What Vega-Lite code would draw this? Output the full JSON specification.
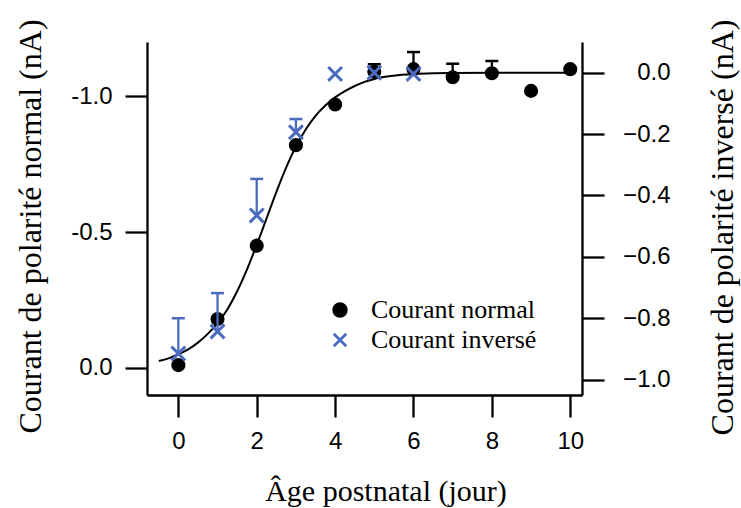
{
  "$schema": "https://vega.github.io/schema/vega-lite/v6.json",
  "width": 435,
  "height": 353,
  "autosize": {"type": "none"},
  "padding": {"left": 147, "top": 42, "right": 159, "bottom": 113},
  "background": "white",
  "config": {
    "view": {"stroke": null},
    "axis": {
      "grid": false,
      "domainColor": "black",
      "domainWidth": 2.3,
      "tickColor": "black",
      "tickWidth": 2.3,
      "tickSize": 22,
      "labelFont": "Liberation Sans",
      "labelFontSize": 24,
      "labelColor": "black",
      "titleFont": "Liberation Serif",
      "titleFontWeight": "normal",
      "titleColor": "black"
    },
    "legend": {
      "labelFont": "Liberation Serif",
      "labelFontSize": 26,
      "labelColor": "black",
      "labelLimit": 400,
      "symbolSize": 160,
      "symbolStrokeWidth": 2.8,
      "labelOffset": 18,
      "rowPadding": 4,
      "padding": 0
    }
  },
  "datasets": {
    "normal": [
      {"age": 0, "val": -0.01, "hi": null, "serie": "Courant normal"},
      {"age": 1, "val": -0.18, "hi": null, "serie": "Courant normal"},
      {"age": 2, "val": -0.45, "hi": null, "serie": "Courant normal"},
      {"age": 3, "val": -0.82, "hi": null, "serie": "Courant normal"},
      {"age": 4, "val": -0.97, "hi": null, "serie": "Courant normal"},
      {"age": 5, "val": -1.09, "hi": -1.118, "serie": "Courant normal"},
      {"age": 6, "val": -1.10, "hi": -1.163, "serie": "Courant normal"},
      {"age": 7, "val": -1.07, "hi": -1.12, "serie": "Courant normal"},
      {"age": 8, "val": -1.085, "hi": -1.13, "serie": "Courant normal"},
      {"age": 9, "val": -1.02, "hi": null, "serie": "Courant normal"},
      {"age": 10, "val": -1.10, "hi": null, "serie": "Courant normal"}
    ],
    "inverse": [
      {"age": 0, "val": -0.915, "hi": -0.80, "serie": "Courant inversé"},
      {"age": 1, "val": -0.843, "hi": -0.718, "serie": "Courant inversé"},
      {"age": 2, "val": -0.465, "hi": -0.346, "serie": "Courant inversé"},
      {"age": 3, "val": -0.194, "hi": -0.151, "serie": "Courant inversé"},
      {"age": 4, "val": -0.004, "hi": null, "serie": "Courant inversé"},
      {"age": 5, "val": 0.0, "hi": null, "serie": "Courant inversé"},
      {"age": 6, "val": -0.004, "hi": null, "serie": "Courant inversé"}
    ],
    "fit": [
      {"age": -0.5, "val": -0.025},
      {"age": -0.25, "val": -0.035},
      {"age": 0, "val": -0.05},
      {"age": 0.25, "val": -0.068},
      {"age": 0.5, "val": -0.093},
      {"age": 0.75, "val": -0.125},
      {"age": 1, "val": -0.165},
      {"age": 1.25, "val": -0.215},
      {"age": 1.5, "val": -0.282},
      {"age": 1.75, "val": -0.362},
      {"age": 2, "val": -0.453},
      {"age": 2.25, "val": -0.55},
      {"age": 2.5, "val": -0.647},
      {"age": 2.75, "val": -0.737},
      {"age": 3, "val": -0.815},
      {"age": 3.25, "val": -0.878},
      {"age": 3.5, "val": -0.928},
      {"age": 3.75, "val": -0.966},
      {"age": 4, "val": -0.996},
      {"age": 4.25, "val": -1.019},
      {"age": 4.5, "val": -1.038},
      {"age": 4.75, "val": -1.053},
      {"age": 5, "val": -1.064},
      {"age": 5.5, "val": -1.076},
      {"age": 6, "val": -1.082},
      {"age": 6.5, "val": -1.085},
      {"age": 7, "val": -1.086},
      {"age": 8, "val": -1.087},
      {"age": 10, "val": -1.087}
    ]
  },
  "layer": [
    {
      "layer": [
        {
          "data": {"name": "fit"},
          "mark": {"type": "line", "color": "black", "strokeWidth": 2, "interpolate": "monotone"},
          "encoding": {
            "x": {
              "field": "age", "type": "quantitative",
              "scale": {"domain": [-0.8, 10.3], "nice": false, "zero": false},
              "axis": {
                "values": [0, 2, 4, 6, 8, 10],
                "format": "d",
                "labelPadding": 12,
                "title": "Âge postnatal (jour)",
                "titleFontSize": 30,
                "titleX": 238.5,
                "titleY": 105,
                "titleAlign": "center",
                "titleBaseline": "alphabetic"
              }
            },
            "y": {
              "field": "val", "type": "quantitative",
              "scale": {"domain": [-1.2, 0.1], "reverse": true, "nice": false, "zero": false},
              "axis": {
                "orient": "left",
                "values": [-1, -0.5, 0],
                "labelExpr": "datum.value < 0 ? '-' + format(-datum.value, '.1f') : format(datum.value, '.1f')",
                "labelPadding": 13,
                "title": "Courant de polarité normal (nA)",
                "titleFontSize": 32,
                "titleAngle": -90,
                "titleX": -107,
                "titleY": 184,
                "titleAlign": "center",
                "titleBaseline": "alphabetic"
              }
            }
          }
        },
        {
          "data": {"name": "normal"},
          "transform": [{"filter": "isValid(datum.hi)"}],
          "mark": {"type": "rule", "color": "black", "strokeWidth": 2.3},
          "encoding": {
            "x": {"field": "age", "type": "quantitative"},
            "y": {"field": "val", "type": "quantitative"},
            "y2": {"field": "hi"}
          }
        },
        {
          "data": {"name": "normal"},
          "transform": [{"filter": "isValid(datum.hi)"}],
          "mark": {"type": "tick", "orient": "horizontal", "color": "black", "size": 13, "thickness": 2.5, "opacity": 1},
          "encoding": {
            "x": {"field": "age", "type": "quantitative"},
            "y": {"field": "hi", "type": "quantitative"}
          }
        },
        {
          "data": {"name": "normal"},
          "mark": {"type": "point", "opacity": 1, "strokeWidth": 2.5, "size": 135},
          "encoding": {
            "x": {"field": "age", "type": "quantitative"},
            "y": {"field": "val", "type": "quantitative"},
            "fill": {
              "field": "serie", "type": "nominal",
              "scale": {"domain": ["Courant normal", "Courant inversé"], "range": ["#000000", "#4a6bc0"]},
              "legend": {"title": null, "orient": "none", "legendX": 180, "legendY": 255}
            },
            "stroke": {
              "field": "serie", "type": "nominal",
              "scale": {"domain": ["Courant normal", "Courant inversé"], "range": ["#000000", "#4a6bc0"]},
              "legend": {"title": null, "orient": "none", "legendX": 180, "legendY": 255}
            },
            "shape": {
              "field": "serie", "type": "nominal",
              "scale": {"domain": ["Courant normal", "Courant inversé"], "range": ["circle", "M-1,-1L1,1M-1,1L1,-1"]},
              "legend": {"title": null, "orient": "none", "legendX": 180, "legendY": 255}
            }
          }
        }
      ]
    },
    {
      "layer": [
        {
          "data": {"name": "inverse"},
          "transform": [{"filter": "isValid(datum.hi)"}],
          "mark": {"type": "rule", "color": "#4a6bc0", "strokeWidth": 2.3},
          "encoding": {
            "x": {"field": "age", "type": "quantitative"},
            "y": {"field": "val", "type": "quantitative"},
            "y2": {"field": "hi"}
          }
        },
        {
          "data": {"name": "inverse"},
          "transform": [{"filter": "isValid(datum.hi)"}],
          "mark": {"type": "tick", "orient": "horizontal", "color": "#4a6bc0", "size": 13, "thickness": 2.5, "opacity": 1},
          "encoding": {
            "x": {"field": "age", "type": "quantitative"},
            "y": {"field": "hi", "type": "quantitative"}
          }
        },
        {
          "data": {"name": "inverse"},
          "mark": {"type": "point", "opacity": 1, "strokeWidth": 3, "size": 190},
          "encoding": {
            "x": {"field": "age", "type": "quantitative"},
            "y": {
              "field": "val", "type": "quantitative",
              "scale": {"domain": [-1.05, 0.1], "nice": false, "zero": false},
              "axis": {
                "orient": "right",
                "values": [0, -0.2, -0.4, -0.6, -0.8, -1],
                "format": ".1f",
                "labelAlign": "right",
                "labelPadding": 66,
                "title": "Courant de polarité inversé (nA)",
                "titleFontSize": 32,
                "titleAngle": -90,
                "titleX": 150,
                "titleY": 185,
                "titleAlign": "center",
                "titleBaseline": "alphabetic"
              }
            },
            "fill": {
              "field": "serie", "type": "nominal",
              "scale": {"domain": ["Courant normal", "Courant inversé"], "range": ["#000000", "#4a6bc0"]},
              "legend": {"title": null, "orient": "none", "legendX": 180, "legendY": 255}
            },
            "stroke": {
              "field": "serie", "type": "nominal",
              "scale": {"domain": ["Courant normal", "Courant inversé"], "range": ["#000000", "#4a6bc0"]},
              "legend": {"title": null, "orient": "none", "legendX": 180, "legendY": 255}
            },
            "shape": {
              "field": "serie", "type": "nominal",
              "scale": {"domain": ["Courant normal", "Courant inversé"], "range": ["circle", "M-1,-1L1,1M-1,1L1,-1"]},
              "legend": {"title": null, "orient": "none", "legendX": 180, "legendY": 255}
            }
          }
        }
      ]
    }
  ],
  "resolve": {"scale": {"y": "independent"}}
}
